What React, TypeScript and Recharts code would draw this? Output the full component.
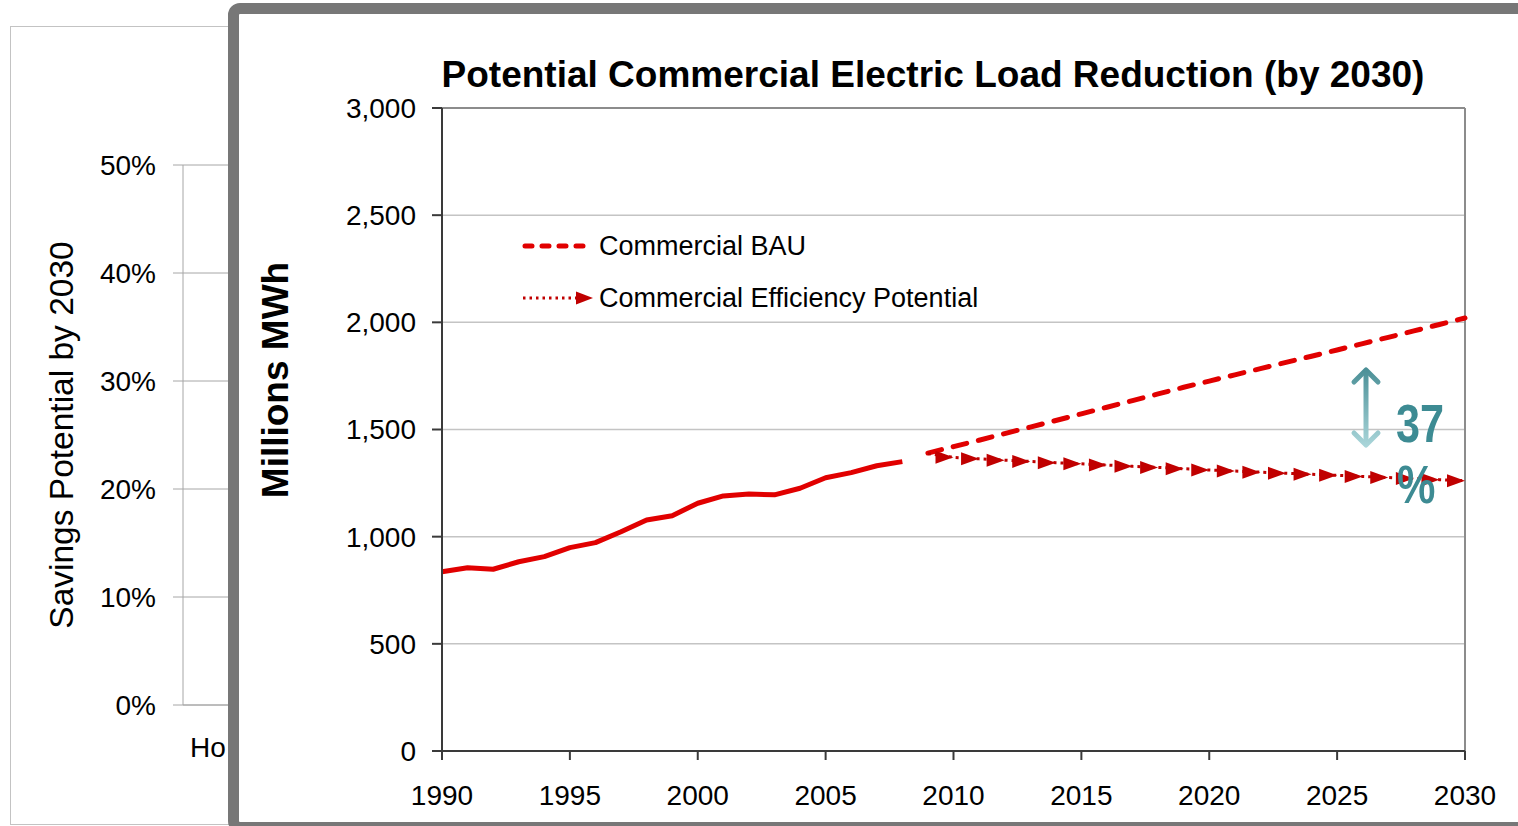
import React from 'react';
import {
  BarChart,
  LineChart,
  Line,
  XAxis,
  YAxis,
  CartesianGrid,
  Legend,
  ReferenceLine,
} from 'recharts';

// Historical commercial electricity load, millions MWh
const histYears = [1990, 1991, 1992, 1993, 1994, 1995, 1996, 1997, 1998, 1999, 2000, 2001, 2002, 2003, 2004, 2005, 2006, 2007, 2008];
const histLoad = [836, 855, 848, 883, 907, 949, 972, 1023, 1078, 1098, 1156, 1190, 1199, 1195, 1226, 1275, 1299, 1331, 1350];

// Projections to 2030
const projYears = [2009, 2010, 2011, 2012, 2013, 2014, 2015, 2016, 2017, 2018, 2019, 2020, 2021, 2022, 2023, 2024, 2025, 2026, 2027, 2028, 2029, 2030];
const bauLoad = [1390, 1420, 1450, 1481, 1511, 1542, 1573, 1604, 1635, 1666, 1697, 1726, 1755, 1784, 1813, 1842, 1871, 1901, 1930, 1960, 1990, 2020];
const effLoad = [1388, 1370, 1363, 1357, 1351, 1345, 1340, 1334, 1328, 1323, 1317, 1311, 1306, 1301, 1296, 1291, 1286, 1281, 1276, 1271, 1266, 1261];

const yearTicks = [1990, 1995, 2000, 2005, 2010, 2015, 2020, 2025, 2030];
const loadTicks = [0, 500, 1000, 1500, 2000, 2500, 3000];

// Background savings chart (mostly covered by the load panel)
const sectors = ['Ho'];
const savingsTicks = [0, 0.1, 0.2, 0.3, 0.4, 0.5];

const savingsPct = '37';

const FONT = '"Liberation Sans", Arial, Helvetica, sans-serif';
const RED = '#e10000';
const DARK_RED = '#c00000';
const TEAL = '#3d8b93';

const loadData = [
  ...histYears.map((year, i) => ({ year, hist: histLoad[i] })),
  ...projYears.map((year, i) => ({ year, bau: bauLoad[i], eff: effLoad[i] })),
];
const firstEffIndex = histYears.length;

const sectorData = sectors.map((sector) => ({ sector }));

// arrowhead on the end of every segment of the efficiency line
const renderArrowHead = (props: any) => {
  const { cx, cy, index } = props;
  if (cx == null || cy == null || index <= firstEffIndex) {
    return <g key={`arrow-${index}`} />;
  }
  return (
    <polygon
      key={`arrow-${index}`}
      points={`${cx},${cy} ${cx - 18},${cy - 6.5} ${cx - 18},${cy + 6.5}`}
      fill={DARK_RED}
      stroke="none"
    />
  );
};

const LegendContent = ({ payload }: any) => (
  <div style={{ fontFamily: FONT, fontSize: 27, color: '#000' }}>
    {(payload || [])
      .filter((entry: any) => entry.dataKey === 'bau' || entry.dataKey === 'eff')
      .map((entry: any) => (
        <div key={entry.value} style={{ display: 'flex', alignItems: 'center', height: 52 }}>
          <svg width={77} height={20} style={{ display: 'block' }}>
            {entry.dataKey === 'bau' ? (
              <line x1={3} y1={10} x2={70} y2={10} stroke={RED} strokeWidth={5} strokeDasharray="7 10" strokeLinecap="round" />
            ) : (
              <>
                <line x1={1} y1={10} x2={54} y2={10} stroke={DARK_RED} strokeWidth={3} strokeDasharray="2.5 4" />
                <polygon points="71,10 54,3.5 54,16.5" fill={DARK_RED} />
              </>
            )}
          </svg>
          <span style={{ lineHeight: 1 }}>{entry.value}</span>
        </div>
      ))}
  </div>
);

const SectorTick = ({ y, payload }: any) => (
  <text x={179} y={y + 44} fontFamily={FONT} fontSize={28} fill="#000" textAnchor="start">
    {payload.value}
  </text>
);

export default function App() {
  return (
    <div
      style={{
        position: 'fixed',
        left: 0,
        top: 0,
        width: 1518,
        height: 826,
        overflow: 'hidden',
        background: '#fff',
      }}
    >
      {/* savings chart behind the panel */}
      <div
        style={{
          position: 'absolute',
          left: 10,
          top: 26,
          width: 320,
          height: 799,
          border: '1px solid #c3c3c3',
          boxSizing: 'border-box',
        }}
      >
        <BarChart width={318} height={797} data={sectorData} margin={{ top: 138, right: 0, left: 0, bottom: 0 }}>
          <CartesianGrid vertical={false} stroke="#a6a6a6" />
          <XAxis
            dataKey="sector"
            height={119}
            axisLine={{ stroke: '#a6a6a6' }}
            tickLine={false}
            tick={<SectorTick />}
          />
          <YAxis
            type="number"
            width={172}
            domain={[0, 0.5]}
            allowDataOverflow
            ticks={savingsTicks}
            tickFormatter={(v: number) => `${Math.round(v * 100)}%`}
            tick={{ fontFamily: FONT, fontSize: 28, fill: '#000' }}
            tickSize={10}
            tickMargin={17}
            axisLine={{ stroke: '#a6a6a6' }}
            tickLine={{ stroke: '#a6a6a6' }}
            label={{
              content: () => (
                <text
                  x={62}
                  y={408}
                  transform="rotate(-90, 62, 408)"
                  textAnchor="middle"
                  fontFamily={FONT}
                  fontSize={33.5}
                  fill="#000"
                >
                  Savings Potential by 2030
                </text>
              ),
            }}
          />
        </BarChart>
      </div>

      {/* grey framed panel */}
      <div
        style={{
          position: 'absolute',
          left: 228,
          top: 3,
          width: 1302,
          height: 830,
          border: '11px solid #777',
          borderRadius: 12,
          boxSizing: 'border-box',
          background: '#fff',
        }}
      />

      <div style={{ position: 'absolute', left: 239, top: 14 }}>
        <LineChart width={1279} height={808} data={loadData} margin={{ top: 94, right: 53, left: 0, bottom: 0 }}>
          <CartesianGrid vertical={false} stroke="#c4c4c4" strokeWidth={1.5} />
          <XAxis
            dataKey="year"
            type="number"
            domain={[1990, 2030]}
            ticks={yearTicks}
            interval={0}
            height={71}
            tickSize={9}
            tickMargin={25}
            tick={{ fontFamily: FONT, fontSize: 28, fill: '#000' }}
            axisLine={{ stroke: '#3a3a3a', strokeWidth: 2 }}
            tickLine={{ stroke: '#3a3a3a', strokeWidth: 2 }}
          />
          <YAxis
            width={203}
            domain={[0, 3000]}
            ticks={loadTicks}
            tickFormatter={(v: number) => v.toLocaleString('en-US')}
            tickSize={10}
            tickMargin={16}
            tick={{ fontFamily: FONT, fontSize: 28, fill: '#000' }}
            axisLine={{ stroke: '#3a3a3a', strokeWidth: 2 }}
            tickLine={{ stroke: '#3a3a3a', strokeWidth: 2 }}
            label={{
              content: () => (
                <text
                  x={49}
                  y={366}
                  transform="rotate(-90, 49, 366)"
                  textAnchor="middle"
                  fontFamily={FONT}
                  fontSize={37}
                  fontWeight="bold"
                  fill="#000"
                >
                  Millions MWh
                </text>
              ),
            }}
          />
          <ReferenceLine y={3000} stroke="#8c8c8c" strokeWidth={2} />
          <ReferenceLine x={2030} stroke="#8c8c8c" strokeWidth={2} />
          <Legend
            layout="vertical"
            align="center"
            verticalAlign="middle"
            wrapperStyle={{ left: 283, top: 206, width: 'auto' }}
            content={<LegendContent />}
          />
          <Line
            dataKey="hist"
            stroke={RED}
            strokeWidth={5}
            strokeLinejoin="round"
            dot={false}
            legendType="none"
            isAnimationActive={false}
          />
          <Line
            dataKey="bau"
            name="Commercial BAU"
            stroke={RED}
            strokeWidth={5}
            strokeDasharray="14 12"
            strokeLinecap="round"
            dot={false}
            isAnimationActive={false}
          />
          <Line
            dataKey="eff"
            name="Commercial Efficiency Potential"
            stroke={DARK_RED}
            strokeWidth={3}
            strokeDasharray="3 4"
            dot={renderArrowHead}
            activeDot={false}
            isAnimationActive={false}
          />
        </LineChart>
      </div>

      {/* title and savings callout */}
      <svg
        width={1518}
        height={826}
        style={{ position: 'absolute', left: 0, top: 0, pointerEvents: 'none' }}
      >
        <defs>
          <linearGradient id="gapArrow" gradientUnits="userSpaceOnUse" x1={0} y1={368} x2={0} y2={448}>
            <stop offset="0%" stopColor="#4a8f96" />
            <stop offset="100%" stopColor="#acd7db" />
          </linearGradient>
        </defs>
        <text x={933} y={87} textAnchor="middle" fontFamily={FONT} fontSize={37} fontWeight="bold" fill="#000">
          Potential Commercial Electric Load Reduction (by 2030)
        </text>
        <g stroke="url(#gapArrow)" strokeWidth={5} strokeLinecap="round" strokeLinejoin="round" fill="none">
          <line x1={1366} y1={371} x2={1366} y2={444} />
          <polyline points="1354,382 1366,370 1378,382" />
          <polyline points="1354,433 1366,445 1378,433" />
        </g>
        <text
          transform="translate(1396,442) scale(0.8,1)"
          fontFamily={FONT}
          fontSize={54}
          fontWeight="bold"
          fill={TEAL}
        >
          {savingsPct}
        </text>
        <text
          transform="translate(1397,503) scale(0.8,1)"
          fontFamily={FONT}
          fontSize={54}
          fontWeight="bold"
          fill={TEAL}
        >
          %
        </text>
      </svg>
    </div>
  );
}
